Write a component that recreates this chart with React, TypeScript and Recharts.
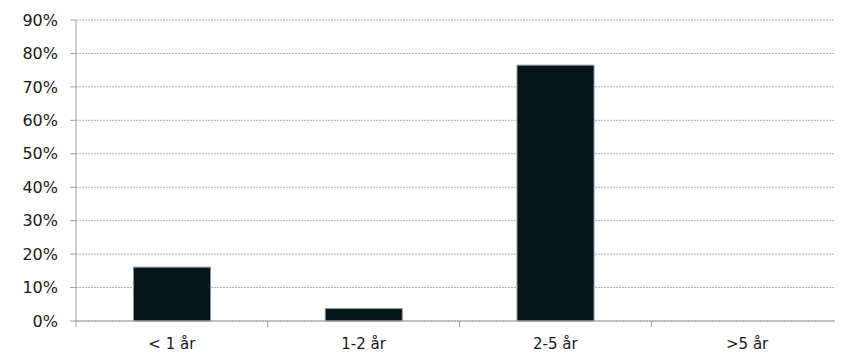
import React from 'react';
import { BarChart, Bar, XAxis, YAxis, CartesianGrid } from 'recharts';

const categories = ['< 1 år', '1-2 år', '2-5 år', '>5 år'];
const values = [16.1, 3.7, 76.5, 0];
const yTicks = [0, 10, 20, 30, 40, 50, 60, 70, 80, 90];

const data = categories.map((c, i) => ({ name: c, value: values[i] }));

const FONT = "'DejaVu Sans', sans-serif";

const XTick = (props: any) => {
  const { x, y, payload, index, visibleTicksCount } = props;
  const off = payload && payload.offset ? payload.offset : 0;
  const last = index === (visibleTicksCount ?? categories.length) - 1;
  return (
    <g>
      <line x1={x - off} x2={x - off} y1={y - 8} y2={y - 2} stroke="#a0a0a0" strokeWidth={1} />
      {last && <line x1={x + off} x2={x + off} y1={y - 8} y2={y - 2} stroke="#a0a0a0" strokeWidth={1} />}
      <text x={x} y={y + 20} textAnchor="middle" fill="#1a1a1a" fontSize={15} fontFamily={FONT}>
        {payload.value}
      </text>
    </g>
  );
};

export default function App() {
  return (
    <BarChart
      width={835}
      height={345}
      data={data}
      margin={{ top: 12, right: 0, bottom: 0, left: 0 }}
      barCategoryGap="30%"
    >
      <CartesianGrid vertical={false} stroke="#b0b0b0" strokeDasharray="2 1" />
      <XAxis
        dataKey="name"
        height={32}
        axisLine={{ stroke: '#a0a0a0' }}
        tickLine={false}
        tick={<XTick />}
        interval={0}
      />
      <YAxis
        width={68}
        domain={[0, 90]}
        ticks={yTicks}
        interval={0}
        tickFormatter={(v: number) => `${v}%`}
        axisLine={{ stroke: '#a0a0a0' }}
        tickLine={{ stroke: '#a0a0a0' }}
        tickSize={6}
        tickMargin={12}
        tick={{ fill: '#1a1a1a', fontSize: 16, fontFamily: FONT }}
      />
      <Bar dataKey="value" fill="#06141b" stroke="#8a9094" strokeWidth={1} isAnimationActive={false} />
    </BarChart>
  );
}
